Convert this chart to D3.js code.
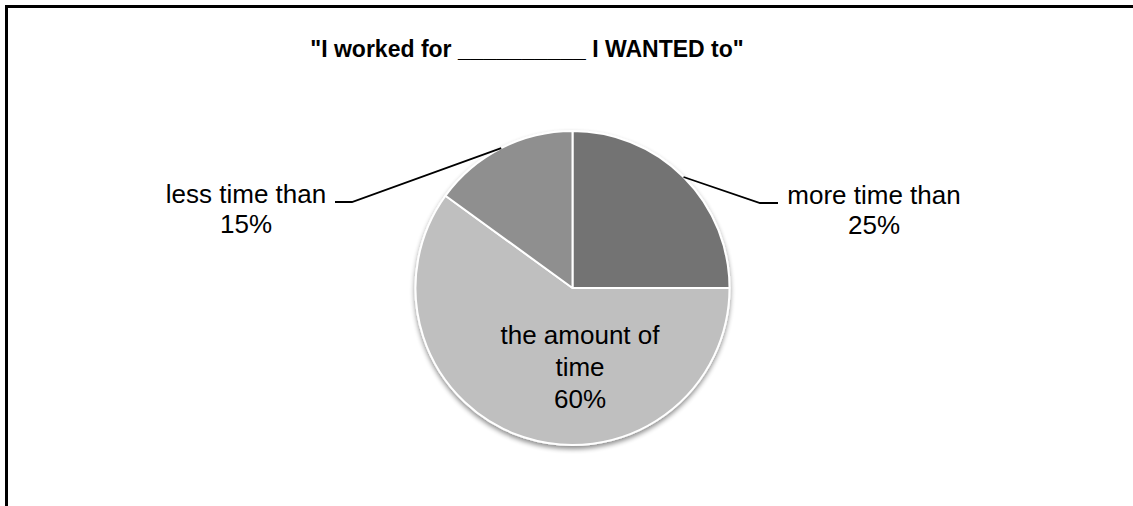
<!DOCTYPE html>
<html>
<head>
<meta charset="utf-8">
<script src="https://cdn.jsdelivr.net/npm/d3@7"></script>
<style>
  html, body { margin: 0; padding: 0; background: #fff; }
  svg { display: block; font-family: "Liberation Sans", Arial, Helvetica, sans-serif; }
</style>
</head>
<body>
<svg id="chart" width="1133" height="506"></svg>
<script>
// Survey answers, in clockwise order from 12 o'clock
const categories = ["more time than", "the amount of time", "less time than"];
const values = [25, 60, 15];
const sliceColors = ["#737373", "#bfbfbf", "#8f8f8f"];
const titleText = "\"I worked for __________ I WANTED to\"";

const svg = d3.select("#chart");
const W = 1133, H = 506;

// Frame (only its top and left edges fall inside the view)
svg.append("path")
  .attr("d", `M6.5,${H + 5} V6.5 H${W + 5}`)
  .attr("fill", "none")
  .attr("stroke", "#000")
  .attr("stroke-width", 3);

// Title
svg.append("text")
  .attr("x", 527)
  .attr("y", 57)
  .attr("text-anchor", "middle")
  .attr("font-size", 23)
  .attr("font-weight", "bold")
  .text(titleText);

// Soft shadow under the pie
const defs = svg.append("defs");
const f = defs.append("filter").attr("id", "shadow")
  .attr("x", "-20%").attr("y", "-20%").attr("width", "140%").attr("height", "140%");
f.append("feGaussianBlur").attr("in", "SourceAlpha").attr("stdDeviation", 2.5).attr("result", "b");
f.append("feOffset").attr("in", "b").attr("dx", 0).attr("dy", 3).attr("result", "o");
f.append("feComponentTransfer").attr("in", "o").attr("result", "s")
  .append("feFuncA").attr("type", "linear").attr("slope", 0.45);
const m = f.append("feMerge");
m.append("feMergeNode").attr("in", "s");
m.append("feMergeNode").attr("in", "SourceGraphic");

const cx = 572.5, cy = 288, R = 157;

const pie = d3.pie().sort(null).value(d => d)(values);
const arc = d3.arc().innerRadius(0).outerRadius(R);

const g = svg.append("g").attr("transform", `translate(${cx},${cy})`);
const slices = g.append("g").attr("filter", "url(#shadow)");
slices.selectAll("path")
  .data(pie)
  .join("path")
  .attr("d", arc)
  .attr("fill", (d, i) => sliceColors[i])
  .attr("stroke", "#fff")
  .attr("stroke-width", 2)
  .attr("stroke-linejoin", "round");

// Point on the rim at the middle of a slice
function rimPoint(d) {
  const a = (d.startAngle + d.endAngle) / 2;
  return [R * Math.sin(a), -R * Math.cos(a)];
}

// Outside labels with leader lines: [slice index, elbow, line end, label anchor, line offsets]
const outside = [
  { i: 0, elbow: [760 - cx, 203 - cy], end: [778 - cx, 203 - cy], lx: 874 - cx, ly: 204 - cy },
  { i: 2, elbow: [352 - cx, 202 - cy], end: [335 - cx, 202 - cy], lx: 246 - cx, ly: 203 - cy }
];
outside.forEach(o => {
  const d = pie[o.i];
  const p = rimPoint(d);
  g.append("path")
    .attr("d", d3.line()([p, o.elbow, o.end]))
    .attr("fill", "none")
    .attr("stroke", "#000")
    .attr("stroke-width", 1.8);
  const t = g.append("text")
    .attr("text-anchor", "middle")
    .attr("font-size", 26)
    .attr("fill", "#000");
  t.append("tspan").attr("x", o.lx).attr("y", o.ly).text(categories[o.i]);
  t.append("tspan").attr("x", o.lx).attr("y", o.ly + 30).text(d.data + "%");
});

// Inside label for the large slice
const inner = g.append("text")
  .attr("text-anchor", "middle")
  .attr("font-size", 26)
  .attr("fill", "#000");
const ix = 580 - cx;
["the amount of", "time", pie[1].data + "%"].forEach((s, k) => {
  inner.append("tspan").attr("x", ix).attr("y", 344 - cy + k * 32).text(s);
});
</script>
</body>
</html>
